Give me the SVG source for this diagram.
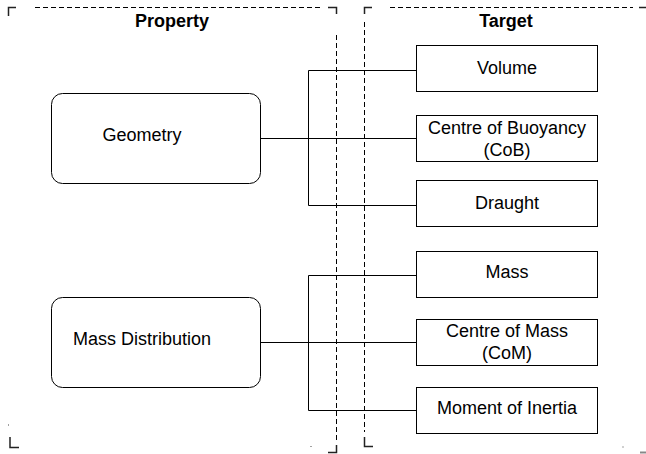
<svg xmlns="http://www.w3.org/2000/svg" width="646" height="454" viewBox="0 0 646 454">
<style>
.box{fill:#fff;stroke:#000;stroke-width:1}
.lbl{font-family:"Liberation Sans",Arial,sans-serif;font-size:18px;fill:#000;text-anchor:middle}
.hdr{font-family:"Liberation Sans",Arial,sans-serif;font-size:18px;font-weight:bold;fill:#000;text-anchor:middle}
.con{fill:none;stroke:#000;stroke-width:1}
.dash{fill:none;stroke:#000;stroke-width:1;stroke-dasharray:5 3}
.corner{fill:none;stroke:#222;stroke-width:1.5}
</style>
<rect width="646" height="454" fill="#fff"/>
<g id="panels">
  <path class="corner" d="M8.5,16V7.5H16"/>
  <line class="dash" x1="35" y1="7.5" x2="322" y2="7.5"/>
  <path class="corner" d="M328,7.5H336.5V14"/>
  <line class="dash" x1="336.5" y1="35" x2="336.5" y2="442"/>
  <path class="corner" d="M328,452.5H336.5V445" stroke="#666"/>
  <rect x="310.5" y="446" width="1" height="1" fill="#444"/>
  <path class="corner" d="M10,437V447.5H19"/>
  <rect x="8" y="424.5" width="1" height="1" fill="#444"/>
  <path class="corner" d="M364.5,14V7.5H372"/>
  <line class="dash" x1="390" y1="7.5" x2="633" y2="7.5"/>
  <line class="corner" x1="639" y1="7.5" x2="646" y2="7.5"/>
  <line class="dash" x1="364.5" y1="22" x2="364.5" y2="432"/>
  <path class="corner" d="M364.5,437V446.5H373"/>
  <rect x="622.5" y="446.5" width="1" height="1" fill="#444"/>
  <line x1="640" y1="452.5" x2="646" y2="452.5" stroke="#888" stroke-width="2"/>
  <text class="hdr" x="172" y="27">Property</text>
  <text class="hdr" x="506" y="27">Target</text>
</g>
<g id="connectors">
  <path class="con" d="M261,138.5H416"/>
  <path class="con" d="M416,70.5H308.5V205.5H416"/>
  <path class="con" d="M261,342.5H416"/>
  <path class="con" d="M416,275.5H308.5V410.5H416"/>
</g>
<g id="geometry">
  <rect class="box" x="51.5" y="93.5" width="209" height="90" rx="11"/>
  <text class="lbl" x="142" y="141">Geometry</text>
</g>
<g id="mass-distribution">
  <rect class="box" x="51.5" y="297.5" width="209" height="90" rx="11"/>
  <text class="lbl" x="142" y="345">Mass Distribution</text>
</g>
<g id="volume">
  <rect class="box" x="416.5" y="45.5" width="181" height="46"/>
  <text class="lbl" x="507" y="74">Volume</text>
</g>
<g id="cob">
  <rect class="box" x="416.5" y="115.5" width="181" height="46"/>
  <text class="lbl" x="507" y="134">Centre of Buoyancy</text>
  <text class="lbl" x="507" y="156">(CoB)</text>
</g>
<g id="draught">
  <rect class="box" x="416.5" y="180.5" width="181" height="46"/>
  <text class="lbl" x="507" y="209">Draught</text>
</g>
<g id="mass">
  <rect class="box" x="416.5" y="251.5" width="181" height="46"/>
  <text class="lbl" x="507" y="278">Mass</text>
</g>
<g id="com">
  <rect class="box" x="416.5" y="319.5" width="181" height="46"/>
  <text class="lbl" x="507" y="337">Centre of Mass</text>
  <text class="lbl" x="507" y="359">(CoM)</text>
</g>
<g id="moi">
  <rect class="box" x="416.5" y="387.5" width="181" height="46"/>
  <text class="lbl" x="507" y="414">Moment of Inertia</text>
</g>
</svg>
